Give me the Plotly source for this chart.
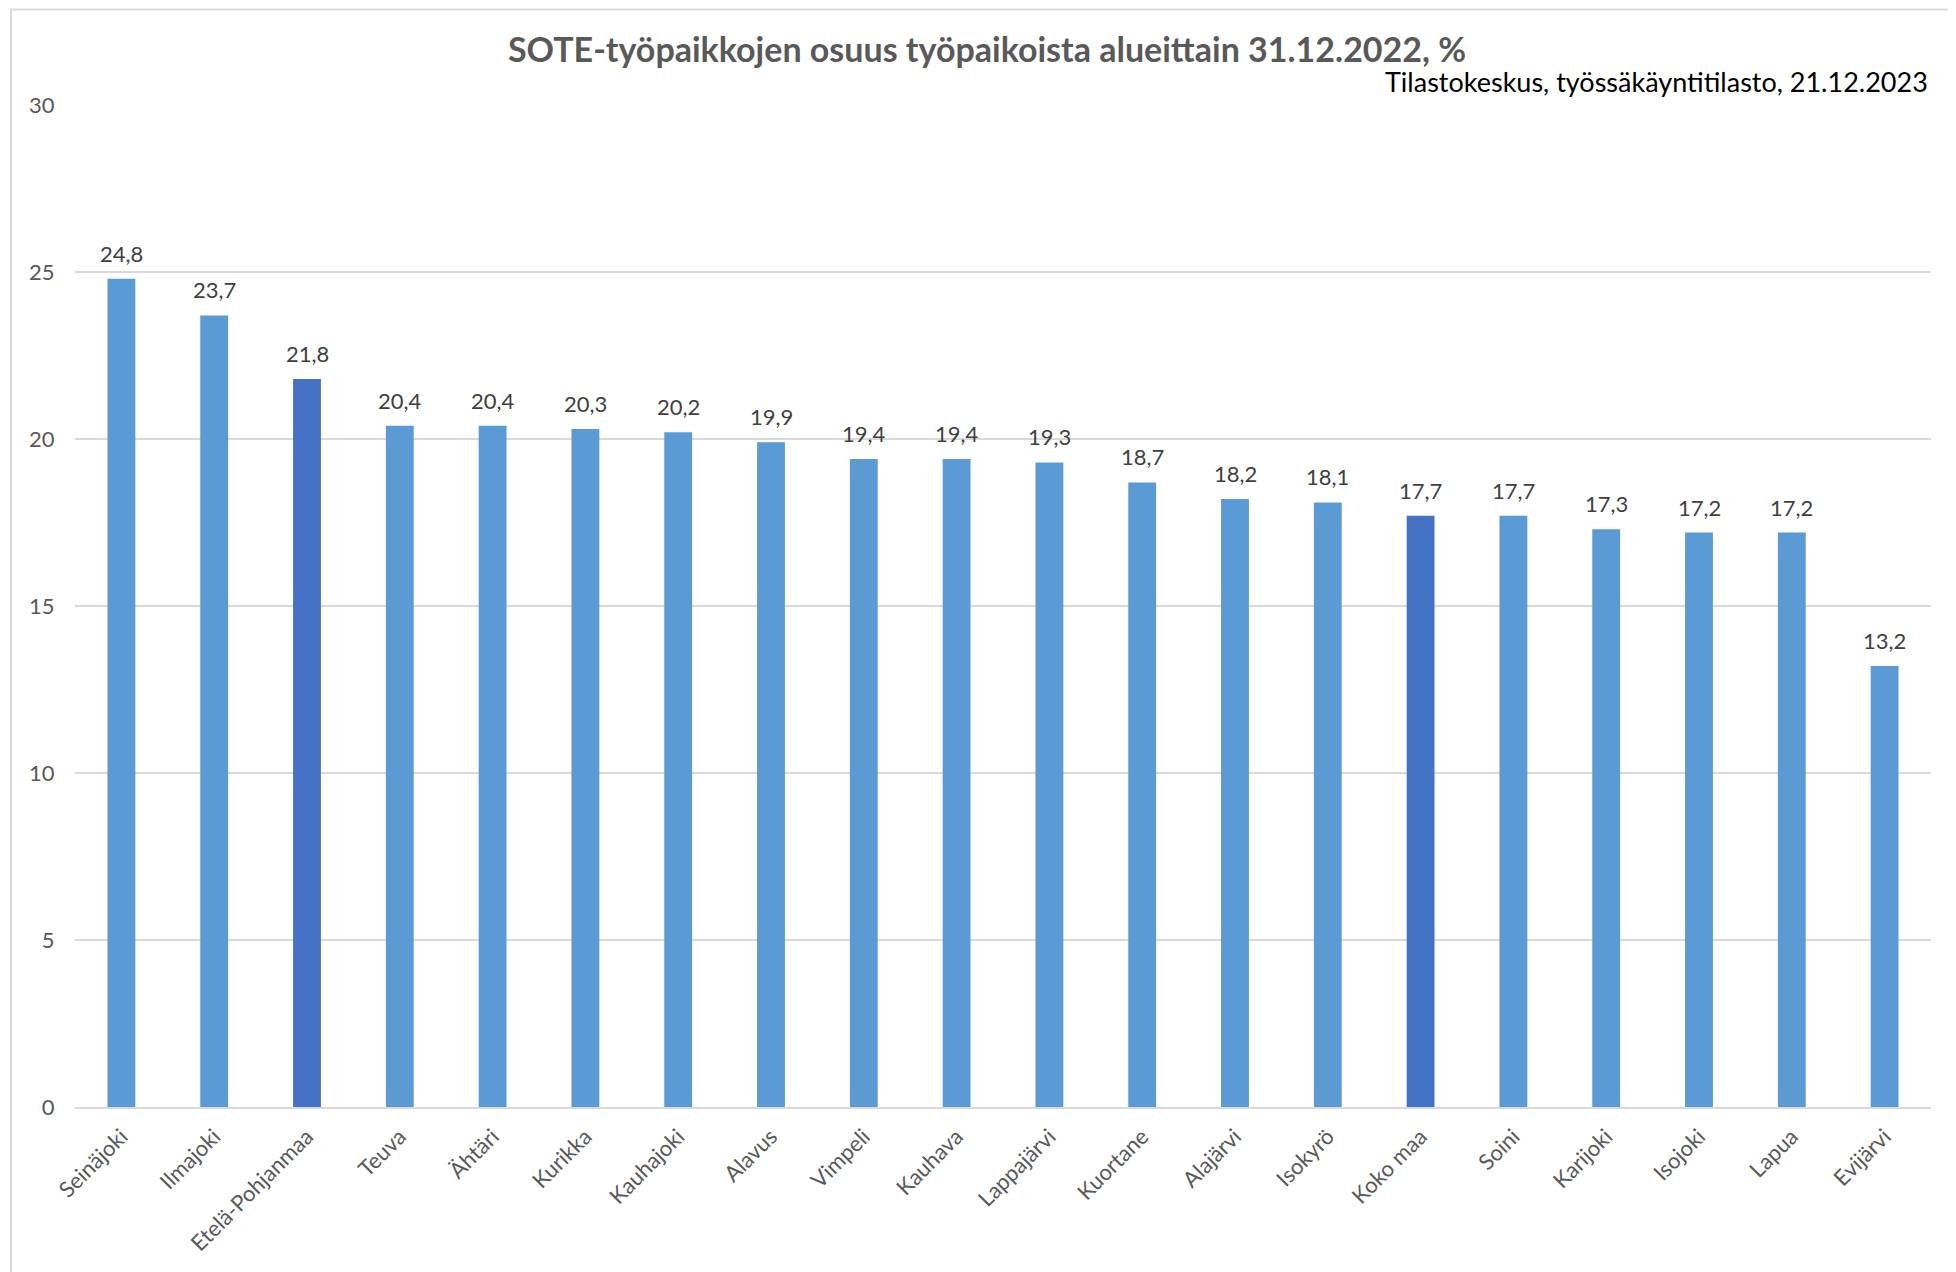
import plotly.graph_objects as go

categories = ["Seinäjoki", "Ilmajoki", "Etelä-Pohjanmaa", "Teuva", "Ähtäri", "Kurikka",
              "Kauhajoki", "Alavus", "Vimpeli", "Kauhava", "Lappajärvi", "Kuortane",
              "Alajärvi", "Isokyrö", "Koko maa", "Soini", "Karijoki", "Isojoki", "Lapua", "Evijärvi"]
values = [24.8, 23.7, 21.8, 20.4, 20.4, 20.3, 20.2, 19.9, 19.4, 19.4, 19.3, 18.7,
          18.2, 18.1, 17.7, 17.7, 17.3, 17.2, 17.2, 13.2]
y_ticks = [0, 5, 10, 15, 20, 25, 30]

title_text = "SOTE-työpaikkojen osuus työpaikoista alueittain 31.12.2022, %"
source_text = "Tilastokeskus, työssäkäyntitilasto, 21.12.2023"

highlight = {"Etelä-Pohjanmaa", "Koko maa"}
colors = ["#4472C4" if c in highlight else "#5B9BD5" for c in categories]

FONT = "Lato"
OFF = 8  # page body margin offset
W, H = 1956 - OFF, 1272 - OFF
L, R, T, B = 75 - OFF, 25, 105 - OFF, 165
PW, PH = W - L - R, H - T - B

def px_x(x):  # page px -> paper
    return (x - OFF - L) / PW

def px_y(y):
    return (H - B - (y - OFF)) / PH

fig = go.Figure()
fig.add_trace(go.Bar(
    x=categories, y=values,
    marker=dict(color=colors, line=dict(width=0)),
    hoverinfo="x+y",
))

annotations = []
for c, v in zip(categories, values):
    annotations.append(dict(
        x=c, y=v, xref="x", yref="y",
        text=f"{v:.1f}".replace(".", ","),
        showarrow=False, yanchor="bottom", yshift=10,
        font=dict(family=FONT, size=22, color="#404040"),
    ))

annotations.append(dict(
    x=px_x(1930), xref="paper", xanchor="right",
    y=px_y(81), yref="paper", yanchor="middle",
    text=source_text, showarrow=False,
    font=dict(family=FONT, size=27, color="#000000"),
))

fig.update_layout(
    width=W, height=H,
    margin=dict(l=L, r=R, t=T, b=B, autoexpand=False),
    paper_bgcolor="white", plot_bgcolor="white",
    separators=", ",
    bargap=0.7,
    showlegend=False,
    title=dict(
        text=f"<b>{title_text}</b>",
        x=(987 - OFF) / W, xref="container", xanchor="center",
        y=1 - (50 - OFF) / H, yref="container", yanchor="middle",
        font=dict(family=FONT, size=34, color="#595959"),
    ),
    xaxis=dict(
        tickangle=-45,
        tickfont=dict(family=FONT, size=22, color="#595959"),
        showgrid=False,
        showline=True, linecolor="#D9D9D9", linewidth=2,
        ticks="outside", ticklen=6, tickcolor="rgba(0,0,0,0)",
    ),
    yaxis=dict(
        range=[0, 30],
        tickvals=y_ticks,
        tickfont=dict(family=FONT, size=22, color="#595959"),
        showgrid=True, gridcolor="#D9D9D9", gridwidth=2,
        zeroline=False, showline=False,
        ticks="outside", ticklen=15, tickcolor="rgba(0,0,0,0)",
    ),
    annotations=annotations,
    shapes=[dict(
        type="rect", xref="paper", yref="paper",
        x0=px_x(11), x1=px_x(1975),
        y0=px_y(1290), y1=px_y(OFF + 1.5),
        line=dict(color="#D9D9D9", width=2), fillcolor="rgba(0,0,0,0)", layer="below",
    )],
)

fig.write_html("out.html")
